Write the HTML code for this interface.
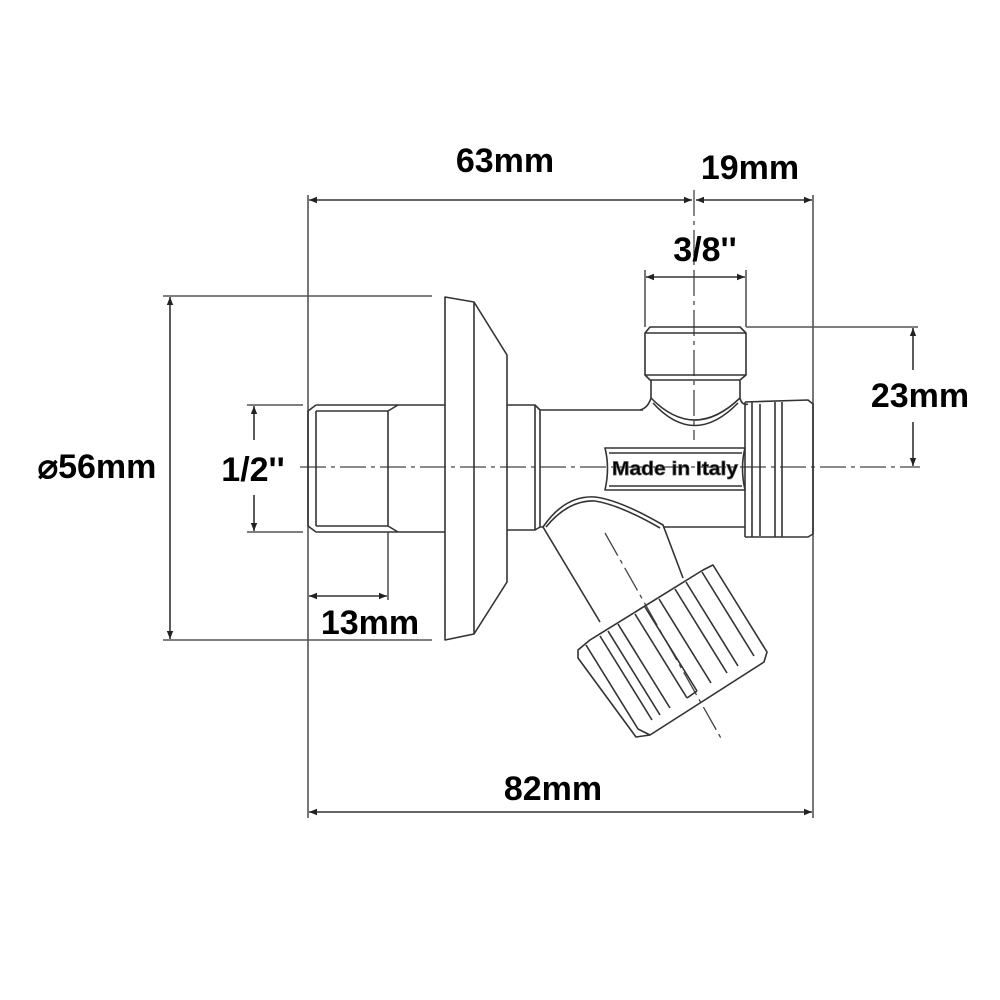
<!DOCTYPE html>
<html><head><meta charset="utf-8"><style>
html,body{margin:0;padding:0;background:#fff;}
svg{display:block;}
text{font-family:"Liberation Sans",sans-serif;font-weight:bold;fill:#000;}
</style></head><body>
<svg width="1000" height="1000" viewBox="0 0 1000 1000" xmlns="http://www.w3.org/2000/svg">
<defs>
<marker id="a" viewBox="0 0 10 10" refX="10" refY="5" markerWidth="12" markerHeight="8" orient="auto-start-reverse" markerUnits="userSpaceOnUse"><path d="M0,1 L10,5 L0,9 z" fill="#222"/></marker>
</defs>
<g stroke="#555" stroke-width="1.6" fill="none">
<line x1="308" y1="195" x2="308" y2="818"/>
<line x1="813" y1="195" x2="813" y2="818"/>
<line x1="163" y1="296" x2="432" y2="296"/>
<line x1="163" y1="640" x2="432" y2="640"/>
<line x1="247" y1="405" x2="303" y2="405"/>
<line x1="247" y1="532" x2="303" y2="532"/>
<line x1="388" y1="532" x2="388" y2="600"/>
<line x1="746" y1="327" x2="918" y2="327"/>
<line x1="645" y1="270" x2="645" y2="327"/>
<line x1="746" y1="270" x2="746" y2="327"/>
</g>
<g stroke="#333" stroke-width="1.6" fill="none">
<line x1="309" y1="200" x2="692" y2="200" marker-start="url(#a)" marker-end="url(#a)"/>
<line x1="696" y1="200" x2="812" y2="200" marker-start="url(#a)" marker-end="url(#a)"/>
<line x1="309" y1="812" x2="812" y2="812" marker-start="url(#a)" marker-end="url(#a)"/>
<line x1="170" y1="297" x2="170" y2="639" marker-start="url(#a)" marker-end="url(#a)"/>
<line x1="254" y1="406" x2="254" y2="440" marker-start="url(#a)"/>
<line x1="254" y1="495" x2="254" y2="531" marker-end="url(#a)"/>
<line x1="309" y1="596" x2="387" y2="596" marker-start="url(#a)" marker-end="url(#a)"/>
<line x1="646" y1="277" x2="745" y2="277" marker-start="url(#a)" marker-end="url(#a)"/>
<line x1="913" y1="328" x2="913" y2="370" marker-start="url(#a)"/>
<line x1="913" y1="422" x2="913" y2="466" marker-end="url(#a)"/>
</g>
<g stroke="#444" stroke-width="1.3" fill="none" stroke-dasharray="26,5,4,5">
<line x1="300" y1="467" x2="920" y2="467"/>
<line x1="694" y1="190" x2="694" y2="440"/>
<line x1="605" y1="533" x2="722" y2="740"/>
</g>
<g stroke="#333" stroke-width="1.6" fill="none" stroke-linejoin="round">
<path d="M316,405 L445,405 M316,532 L445,532 M308,411 L308,526 M308,411 L316,405 M308,526 L316,532 M316,411 L316,526 M316,411 L388,411 M316,526 L388,526 M388,411 L388,526 M388,411 L398,405 M388,526 L398,532"/>
<path d="M445,297 L474,302 L507,355 L507,582 L474,634 L445,640 Z M474,302 L474,634"/>
<path d="M507,405 L535,405 L535,530 L507,530"/>
<path d="M535,405 L540,410 L643,410 M540,410 L540,527 M535,530 L540,527 L543,527 M663,527 L745,527 M745,402 L745,537"/>
<path d="M745,402 L808,400 L813,404 L813,534 L808,537 L745,537 M752,402 L752,537 M760,404 L760,536 M775,402 L775,537 M782,402 L782,537"/>
<path d="M650,327 L740,327 L746,333 L746,375 L740,380 L650,380 L645,375 L645,333 Z M645,333 L746,333 M645,375 L746,375 M651,380 L651,398 Q648,408 640,410 M740,380 L740,398 Q742,406 748,404 M651,398 Q694,442 740,398 M653,403 Q694,448 738,403"/>
<path d="M605,448 L745,448 Q740,468 745,490 L605,490 Q610,468 605,448 Z M609,453 L742,453 M609,486 L742,486"/>
<path d="M543,527 Q565,495 595,497 Q620,500 663,525 L683,578 M546,527 Q568,500 595,501 Q620,505 660,528 M543,527 L600,622"/>
<!-- cap -->
<path d="M578,650 L590,640 L703,570 L713,565 L767,652 L764,662 L650,735 L636,737 L578,658 Z"/>
<path d="M586,645 L638,729 M600,636 L652,720 M608,631 L660,715 M618,624 L670,708 M635,614 L687,698 M645,607 L697,691 M659,599 L711,683 M675,589 L727,673 M686,582 L738,666 M702,572 L754,656 M638,729 L650,735 M687,698 L697,691"/>
</g>
<text x="612" y="475" font-size="19" fill="#333" stroke="#555" stroke-width="0.7" textLength="126" lengthAdjust="spacingAndGlyphs">Made in Italy</text>
<g font-size="34">
<text x="505" y="172" text-anchor="middle">63mm</text>
<text x="750" y="179" text-anchor="middle">19mm</text>
<text x="705" y="261" text-anchor="middle">3/8''</text>
<text x="920" y="407" text-anchor="middle">23mm</text>
<text x="97" y="478" text-anchor="middle">⌀56mm</text>
<text x="253" y="481" text-anchor="middle">1/2''</text>
<text x="370" y="634" text-anchor="middle">13mm</text>
<text x="553" y="800" text-anchor="middle">82mm</text>
</g>
</svg>
</body></html>
